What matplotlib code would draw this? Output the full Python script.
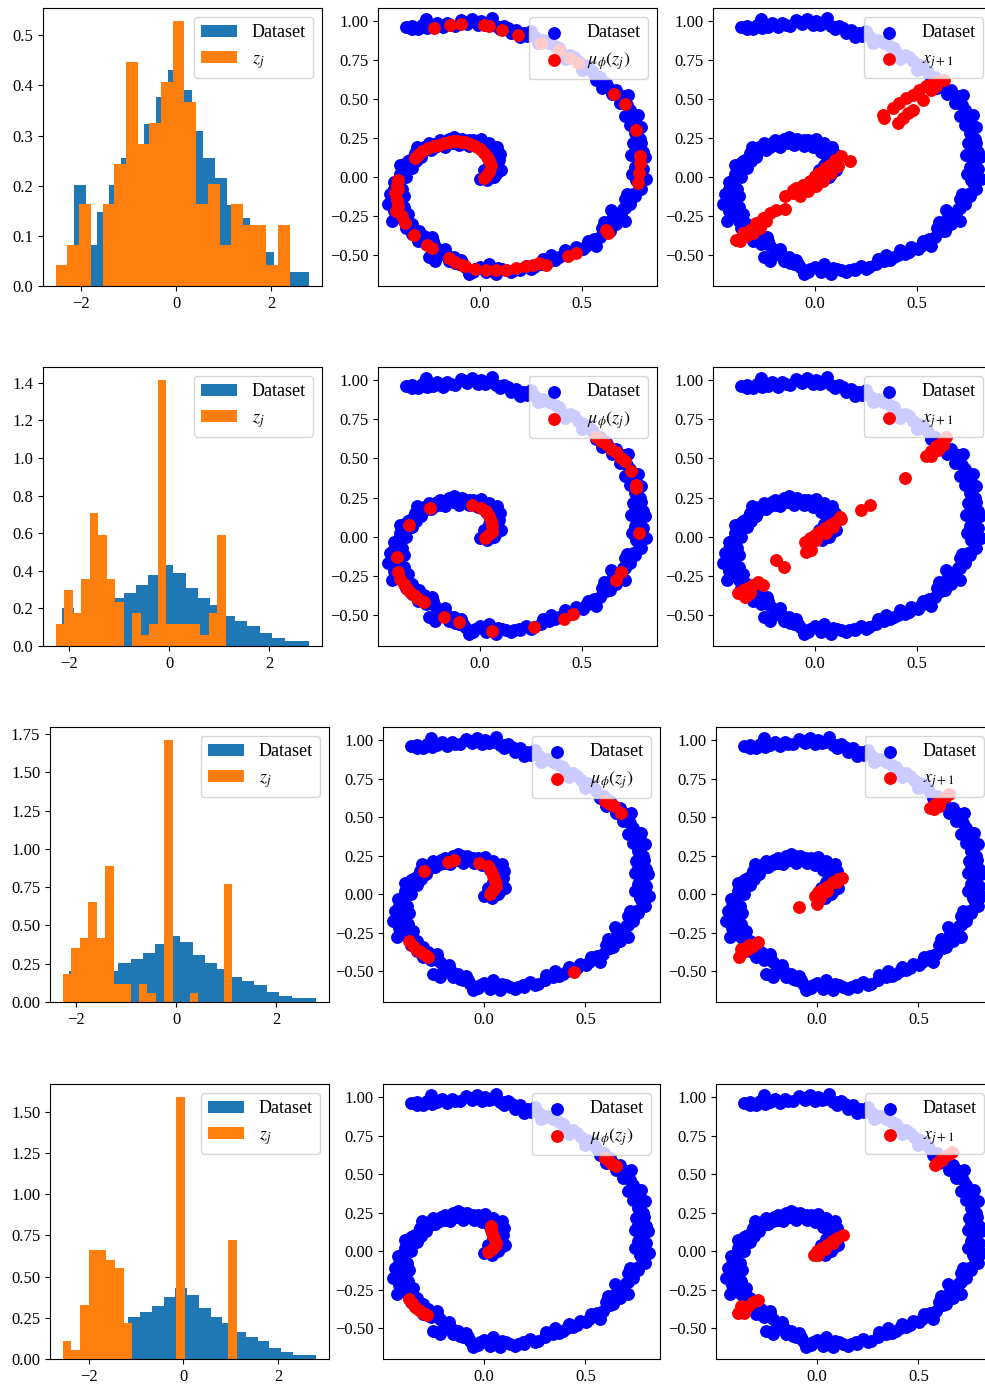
import numpy as np
import matplotlib
matplotlib.use("Agg")
import matplotlib.pyplot as plt
from matplotlib.ticker import MultipleLocator

plt.rcParams['font.family'] = ['Liberation Serif', 'DejaVu Serif']
plt.rcParams['mathtext.fontset'] = 'stix'
plt.rcParams['font.size'] = 12
plt.rcParams['legend.fontsize'] = 13

# ---------------- histogram data (density heights) ----------------
data_hist_range = (-2.15, 2.80)
data_hist = [0.202, 0.081, 0.148, 0.202, 0.256, 0.283, 0.323, 0.377, 0.431, 0.391,
             0.310, 0.256, 0.216, 0.162, 0.135, 0.108, 0.067, 0.040, 0.027, 0.027]

z_ranges = [(-2.53, 2.39), (-2.27, 1.13), (-2.27, 1.12), (-2.545, 1.13)]
z_hist_1 = [0.041, 0.081, 0.163, 0.0, 0.163, 0.244, 0.447, 0.284, 0.325, 0.407,
            0.528, 0.366, 0.163, 0.203, 0.081, 0.163, 0.122, 0.122, 0.041, 0.122]
z_hist_2 = [0.119, 0.297, 0.176, 0.354, 0.706, 0.590, 0.354, 0.235, 0.0, 0.176,
            0.059, 0.119, 1.414, 0.119, 0.119, 0.119, 0.119, 0.059, 0.176, 0.590]
z_hist_3 = [0.180, 0.354, 0.415, 0.652, 0.415, 0.891, 0.120, 0.120, 0.0, 0.120,
            0.060, 0.0, 1.710, 0.0, 0.0, 0.060, 0.0, 0.0, 0.0, 0.770]
z_hist_4 = [0.110, 0.053, 0.330, 0.660, 0.660, 0.600, 0.550, 0.220, 0.0, 0.0,
            0.0, 0.0, 0.0, 1.590, 0.0, 0.0, 0.0, 0.0, 0.0, 0.720]
z_hists = [z_hist_1, z_hist_2, z_hist_3, z_hist_4]
hist_ytick_steps = [0.1, 0.2, 0.25, 0.25]

# ---------------- spiral dataset ----------------
data_x = [0.003, 0.038, 0.07, 0.021, 0.065, 0.103, 0.079, 0.045, 0.095, 0.06, 0.062, 0.1, 0.03, 0.087,
          0.046, 0.03, 0.005, -0.01, -0.02, -0.052, -0.05, -0.085, -0.102, -0.126, -0.13, -0.151, -0.167,
          -0.192, -0.19, -0.216, -0.249, -0.24, -0.266, -0.307, -0.315, -0.285, -0.339, -0.31, -0.389,
          -0.356, -0.33, -0.389, -0.36, -0.421, -0.413, -0.38, -0.438, -0.40, -0.446, -0.413, -0.372,
          -0.42, -0.43, -0.372, -0.39, -0.331, -0.331, -0.36, -0.298, -0.274, -0.233, -0.3, -0.216, -0.26,
          -0.216, -0.249, -0.175, -0.2, -0.126, -0.15, -0.102, -0.069, -0.052, -0.02, 0.03, 0.046, 0.079,
          0.111, 0.152, 0.193, 0.226, 0.267, 0.308, 0.341, 0.39, 0.44, 0.472, 0.505, 0.53, 0.57, 0.587,
          0.636, 0.611, 0.669, 0.71, 0.644, 0.702, 0.734, 0.71, 0.751, 0.792, 0.767, 0.816, 0.8, 0.759,
          0.808, 0.743, 0.8, 0.751, 0.784, 0.792, 0.734, 0.775, 0.734, 0.685, 0.726, 0.669, 0.62, 0.57,
          0.554, 0.53, 0.48, 0.44, 0.39, 0.341, 0.284, 0.25, 0.218, 0.177, 0.152, 0.12, 0.079, 0.062,
          0.026, 0.005, -0.036, -0.089, -0.118, -0.159, -0.208, -0.257, -0.262, -0.302, -0.36,
          0.6, 0.68, 0.77, 0.78, 0.77, 0.76, 0.71, 0.7, 0.6, 0.5, 0.42, 0.31, 0.2, 0.1, -0.06, -0.18,
          -0.33, 0.35, 0.42, 0.2, 0.09, 0.0, -0.09, -0.17, -0.23, -0.41, -0.37, -0.35, -0.36, -0.28,
          -0.21, -0.1, 0.0, 0.08, 0.08,
          -0.33, -0.28, -0.23, -0.14, -0.07, -0.01, 0.04, 0.1, 0.14, 0.19, 0.23, 0.27, 0.3, 0.37, 0.4,
          0.46, 0.51, 0.55, 0.59, 0.63, 0.65, 0.7, 0.72, 0.74, 0.76, 0.77, 0.79, 0.76, 0.79, 0.745, 0.78,
          0.76, 0.72, 0.71, 0.69, 0.65, 0.62, 0.56, 0.52, 0.46, 0.41, 0.37, 0.3, 0.25, 0.17, 0.13, 0.06,
          0.02, -0.03, -0.08, -0.12, -0.16, -0.19, -0.27, -0.32, -0.35, -0.38, -0.4, -0.425, -0.42, -0.40,
          -0.38, -0.35, -0.32, -0.27, -0.23, -0.17, -0.11, -0.07, -0.03, 0.02, 0.06, 0.075, 0.085, 0.05,
          0.02]
data_y = [-0.011, -0.022, 0.0, 0.043, 0.03, 0.043, 0.065, 0.08, 0.108, 0.11, 0.14, 0.15, 0.16, 0.194,
          0.215, 0.194, 0.241, 0.19, 0.215, 0.237, 0.2, 0.247, 0.204, 0.258, 0.22, 0.247, 0.194, 0.237,
          0.205, 0.194, 0.215, 0.175, 0.172, 0.194, 0.151, 0.13, 0.108, 0.1, 0.075, 0.054, 0.06, 0.022,
          0.0, -0.032, -0.043, -0.075, -0.108, -0.13, -0.172, -0.161, -0.194, -0.22, -0.28, -0.28, -0.25,
          -0.301, -0.366, -0.33, -0.344, -0.376, -0.387, -0.41, -0.441, -0.43, -0.538, -0.516, -0.484,
          -0.5, -0.516, -0.54, -0.559, -0.581, -0.624, -0.591, -0.613, -0.559, -0.624, -0.591, -0.613,
          -0.591, -0.57, -0.581, -0.527, -0.538, -0.516, -0.495, -0.452, -0.462, -0.409, -0.441, -0.387,
          -0.344, -0.29, -0.301, -0.28, -0.215, -0.204, -0.172, -0.14, -0.108, -0.075, -0.022, -0.011,
          0.054, 0.065, 0.129, 0.14, 0.161, 0.215, 0.247, 0.323, 0.333, 0.398, 0.43, 0.473, 0.527, 0.559,
          0.602, 0.624, 0.667, 0.71, 0.742, 0.785, 0.828, 0.86, 0.86, 0.935, 0.925, 0.946, 0.925, 0.972,
          0.968, 1.02, 0.978, 1.0, 1.015, 1.01, 0.972, 0.989, 0.989, 0.957, 1.015, 0.95, 0.963,
          -0.33, -0.24, 0.0, 0.1, 0.2, 0.28, 0.39, 0.5, 0.57, 0.69, 0.76, 0.88, 0.9, 0.95, 0.98, 0.96,
          0.97, -0.5, -0.47, -0.6, -0.585, -0.575, -0.53, -0.46, -0.41, -0.07, -0.12, -0.24, 0.09, 0.16,
          0.22, 0.23, 0.22, 0.17, 0.02,
          0.95, 0.975, 0.965, 0.975, 0.995, 0.975, 0.99, 0.965, 0.955, 0.93, 0.905, 0.9, 0.87, 0.84, 0.8,
          0.77, 0.72, 0.68, 0.64, 0.58, 0.53, 0.52, 0.46, 0.4, 0.36, 0.3, 0.22, 0.17, 0.04, 0.02, -0.05,
          -0.12, -0.11, -0.2, -0.25, -0.27, -0.35, -0.4, -0.44, -0.48, -0.5, -0.53, -0.56, -0.59, -0.6,
          -0.6, -0.6, -0.59, -0.61, -0.56, -0.55, -0.5, -0.47, -0.4, -0.35, -0.3, -0.23, -0.19, -0.14,
          -0.08, -0.02, 0.04, 0.1, 0.13, 0.19, 0.2, 0.225, 0.245, 0.22, 0.235, 0.21, 0.18, 0.12, 0.08,
          0.02, 0.0]

# ---------------- generated points (red) ----------------
mu_x_1 = [-0.225, -0.143, -0.093, 0.021, 0.046, 0.108, 0.189, 0.30, 0.39, 0.44, 0.48, 0.66, 0.71, 0.767,
          0.784, 0.784, 0.78, 0.775, 0.62, 0.628, 0.431, 0.472, 0.292, 0.325, 0.226, 0.177, 0.128, 0.079,
          0.03, -0.02, -0.069, -0.085, -0.151, -0.233, -0.257, -0.323, -0.364, -0.38, -0.397, -0.405,
          -0.413, -0.405, -0.397, -0.41, -0.40, -0.315, -0.282, -0.25, -0.2, -0.151, -0.11, -0.069,
          -0.02, 0.021, 0.046, 0.054, 0.03, -0.3, -0.225, -0.175, -0.13, -0.09, -0.045, 0.0, 0.035, 0.05,
          0.045, 0.02, 0.26, -0.12]
mu_y_1 = [0.957, 0.979, 0.985, 0.979, 0.968, 0.942, 0.91, 0.861, 0.818, 0.764, 0.732, 0.535, 0.471, 0.304,
          0.133, 0.09, 0.026, -0.039, -0.338, -0.36, -0.51, -0.488, -0.552, -0.563, -0.574, -0.585, -0.595,
          -0.6, -0.6, -0.59, -0.574, -0.563, -0.52, -0.456, -0.435, -0.37, -0.295, -0.253, -0.188, -0.146,
          -0.103, -0.06, -0.017, -0.22, -0.08, 0.122, 0.165, 0.186, 0.208, 0.223, 0.229, 0.223, 0.197,
          0.154, 0.111, 0.069, 0.004, 0.14, 0.2, 0.215, 0.228, 0.226, 0.21, 0.18, 0.13, 0.09, 0.035,
          -0.005, -0.565, -0.545]

x_next_x_1 = [-0.383, -0.35, -0.318, -0.285, -0.252, -0.22, -0.187, -0.147, -0.334, -0.30, -0.269, -0.236,
              -0.366, -0.147, -0.106, -0.09, -0.057, -0.024, 0.0, 0.024, 0.049, 0.073, 0.098, 0.13, 0.171,
              -0.073, -0.033, 0.008, 0.04, 0.081, 0.114, -0.106, 0.334, 0.342, 0.383, 0.415, 0.448, 0.48,
              0.513, 0.546, 0.578, 0.611, 0.635, 0.529, 0.57, 0.594, 0.407, 0.432, 0.456, 0.48]
x_next_y_1 = [-0.403, -0.36, -0.338, -0.295, -0.263, -0.231, -0.21, -0.206, -0.381, -0.36, -0.328, -0.285,
              -0.413, -0.124, -0.103, -0.071, -0.049, -0.028, 0.004, 0.026, 0.058, 0.079, 0.111, 0.133, 0.1,
              -0.124, -0.092, -0.06, -0.028, 0.026, 0.069, -0.081, 0.40, 0.379, 0.443, 0.475, 0.507, 0.529,
              0.561, 0.582, 0.604, 0.615, 0.625, 0.497, 0.561, 0.582, 0.347, 0.379, 0.411, 0.433]

mu_x_2 = [0.57, 0.595, 0.62, 0.644, 0.669, 0.693, 0.71, 0.743, 0.764, 0.767, 0.78, 0.693, 0.669, 0.456,
          0.415, 0.267, 0.059, -0.102, -0.172, -0.405, -0.397, -0.389, -0.372, -0.356, -0.339, -0.323,
          -0.307, -0.282, -0.274, -0.343, -0.241, -0.036, 0.005, 0.03, 0.046, 0.054, 0.062, 0.059, 0.043,
          0.026]
mu_y_2 = [0.634, 0.613, 0.591, 0.559, 0.538, 0.505, 0.484, 0.419, 0.333, 0.312, 0.026, -0.226, -0.28,
          -0.495, -0.527, -0.581, -0.606, -0.548, -0.516, -0.129, -0.226, -0.269, -0.301, -0.333, -0.355,
          -0.376, -0.391, -0.413, -0.419, 0.075, 0.183, 0.204, 0.183, 0.161, 0.129, 0.097, 0.065, 0.032,
          0.011, -0.011]

x_next_x_2 = [0.546, 0.57, 0.594, 0.619, 0.643, 0.57, 0.603, 0.627, 0.44, 0.228, 0.272, -0.049, -0.024,
              0.0, 0.024, 0.049, 0.073, 0.098, 0.122, 0.13, 0.008, 0.057, 0.09, -0.041, -0.016, -0.187,
              -0.151, -0.375, -0.35, -0.326, -0.301, -0.277, -0.252, -0.342, -0.318]
x_next_y_2 = [0.513, 0.545, 0.577, 0.598, 0.635, 0.513, 0.556, 0.588, 0.374, 0.171, 0.203, -0.032, -0.011,
              0.011, 0.032, 0.053, 0.075, 0.096, 0.128, 0.111, -0.021, 0.021, 0.064, -0.096, -0.085, -0.15,
              -0.192, -0.363, -0.342, -0.331, -0.31, -0.288, -0.31, -0.385, -0.363]

mu_x_3 = [0.599, 0.624, 0.64, 0.678, 0.442, -0.371, -0.35, -0.328, -0.309, -0.292, -0.276, -0.297,
          -0.177, -0.147, -0.025, 0.018, 0.035, 0.046, 0.054, 0.059, 0.046, 0.03]
mu_y_3 = [0.605, 0.587, 0.572, 0.529, -0.508, -0.302, -0.335, -0.361, -0.378, -0.395, -0.41, 0.151,
          0.21, 0.223, 0.2, 0.183, 0.151, 0.119, 0.086, 0.054, 0.028, 0.0]

x_next_x_3 = [0.56, 0.584, 0.609, 0.633, 0.649, 0.576, 0.6, -0.008, 0.008, 0.032, 0.057, 0.081, 0.106,
              0.122, 0.0, 0.016, 0.049, 0.097, -0.089, -0.386, -0.365, -0.341, -0.317, -0.292, -0.373,
              -0.333]
x_next_y_3 = [0.562, 0.583, 0.605, 0.633, 0.648, 0.551, 0.572, -0.011, 0.011, 0.032, 0.054, 0.076, 0.097,
              0.108, -0.065, -0.022, 0.022, 0.076, -0.086, -0.406, -0.378, -0.356, -0.339, -0.313, -0.356,
              -0.33]

mu_x_4 = [0.599, 0.615, 0.632, 0.649, 0.035, 0.041, 0.05, 0.058, 0.054, 0.038, 0.021, -0.371, -0.355,
          -0.338, -0.32, -0.3, -0.281, 0.037]
mu_y_4 = [0.605, 0.583, 0.566, 0.551, 0.162, 0.119, 0.086, 0.054, 0.032, 0.015, -0.004, -0.313, -0.339,
          -0.361, -0.38, -0.4, -0.415, 0.14]

x_next_x_4 = [0.584, 0.6, 0.625, 0.649, 0.666, 0.592, 0.617, -0.016, 0.0, 0.024, 0.049, 0.073, 0.097,
              0.127, 0.008, 0.041, 0.081, -0.39, -0.365, -0.341, -0.317, -0.292, -0.357, -0.373]
x_next_y_4 = [0.562, 0.587, 0.609, 0.631, 0.644, 0.572, 0.594, -0.022, 0.0, 0.022, 0.043, 0.065, 0.086,
              0.108, -0.022, 0.011, 0.054, -0.4, -0.374, -0.356, -0.33, -0.315, -0.4, -0.356]

mu_sets = [(mu_x_1, mu_y_1), (mu_x_2, mu_y_2), (mu_x_3, mu_y_3), (mu_x_4, mu_y_4)]
next_sets = [(x_next_x_1, x_next_y_1), (x_next_x_2, x_next_y_2),
             (x_next_x_3, x_next_y_3), (x_next_x_4, x_next_y_4)]

# ---------------- layout ----------------
W, H = 985, 1387
fig = plt.figure(figsize=(W / 100, H / 100), dpi=100)

rows_px = [(8, 286), (367, 646), (727, 1002), (1084, 1359)]
cols_px = [[(43, 322), (378, 657), (713, 992)],
           [(43, 322), (378, 657), (713, 992)],
           [(50, 329), (383, 660), (716, 993)],
           [(50, 329), (383, 660), (716, 993)]]

def add_ax(xp, yp):
    l, r = xp
    t, b = yp
    return fig.add_axes([l / W, 1 - b / H, (r - l) / W, (b - t) / H])

S = 68
for i in range(4):
    yp = rows_px[i]
    # histogram
    ax = add_ax(cols_px[i][0], yp)
    e_data = np.linspace(data_hist_range[0], data_hist_range[1], len(data_hist) + 1)
    e_z = np.linspace(z_ranges[i][0], z_ranges[i][1], len(z_hists[i]) + 1)
    ax.hist(e_data[:-1], bins=e_data, weights=data_hist, color='tab:blue', label='Dataset')
    ax.hist(e_z[:-1], bins=e_z, weights=z_hists[i], color='tab:orange', label='$z_j$')
    ax.xaxis.set_major_locator(MultipleLocator(2))
    ax.yaxis.set_major_locator(MultipleLocator(hist_ytick_steps[i]))
    ax.legend(loc='upper right')

    # mu panel
    ax2 = add_ax(cols_px[i][1], yp)
    ax2.scatter(data_x, data_y, s=S, color='blue', label='Dataset')
    ax2.scatter(mu_sets[i][0], mu_sets[i][1], s=S, color='red', label=r'$\mu_\phi(z_j)$')
    # next panel
    ax3 = add_ax(cols_px[i][2], yp)
    ax3.scatter(data_x, data_y, s=S, color='blue', label='Dataset')
    ax3.scatter(next_sets[i][0], next_sets[i][1], s=S, color='red', label='$x_{j+1}$')
    for a in (ax2, ax3):
        a.set_xlim(-0.497, 0.868)
        a.set_ylim(-0.70, 1.085)
        a.xaxis.set_major_locator(MultipleLocator(0.5))
        a.yaxis.set_major_locator(MultipleLocator(0.25))
        a.legend(loc='upper right')

fig.savefig('out.png', dpi=100)
